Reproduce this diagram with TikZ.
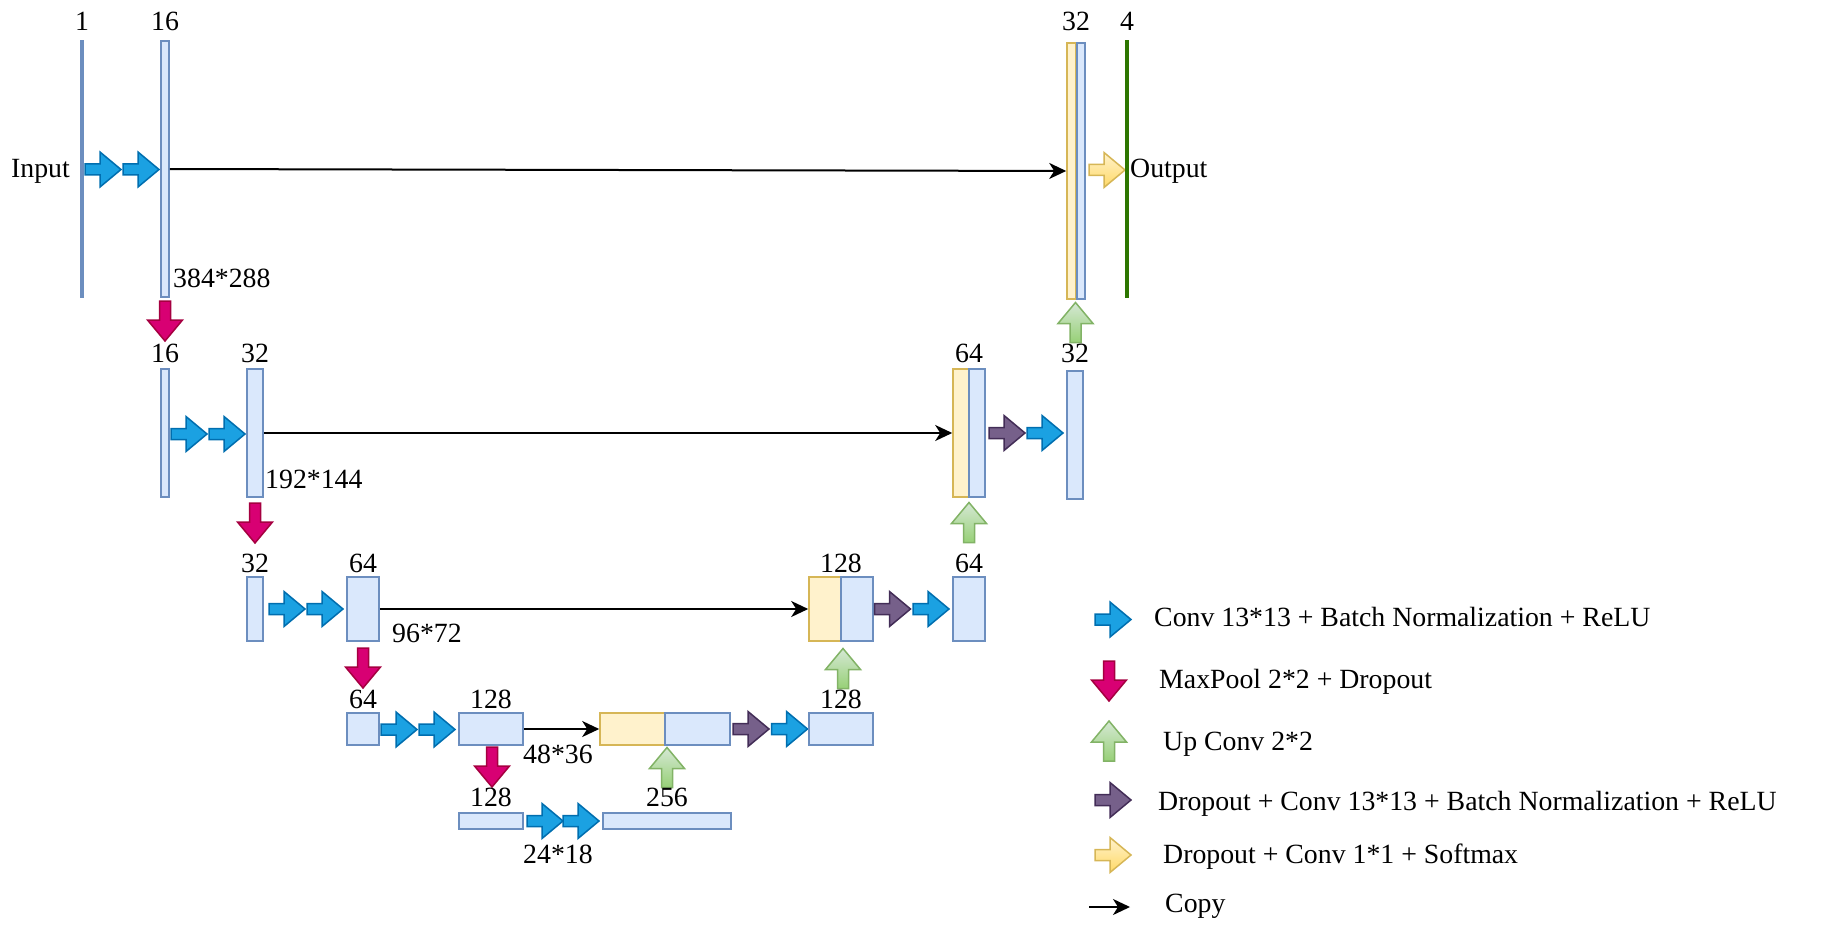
\documentclass[tikz,border=0pt]{standalone}
\usepackage{fontspec}
\setmainfont{Liberation Serif}
\usetikzlibrary{arrows.meta}
\definecolor{mapfill}{HTML}{DAE8FC}
\definecolor{mapdraw}{HTML}{6C8EBF}
\definecolor{catfill}{HTML}{FFF2CC}
\definecolor{catdraw}{HTML}{D6B656}
\definecolor{convfill}{HTML}{1BA1E2}
\definecolor{convdraw}{HTML}{006EAF}
\definecolor{poolfill}{HTML}{D80073}
\definecolor{pooldraw}{HTML}{A50040}
\definecolor{uptop}{HTML}{D5E8D4}
\definecolor{upbot}{HTML}{97D077}
\definecolor{updraw}{HTML}{82B366}
\definecolor{dropfill}{HTML}{76608A}
\definecolor{dropdraw}{HTML}{432D57}
\definecolor{smtop}{HTML}{FFF2CC}
\definecolor{smbot}{HTML}{FFD966}
\definecolor{outcol}{HTML}{2D7600}
\tikzset{
  pics/rarr/.style={code={\path[pic actions] (-18,-5.5) -- (-3,-5.5) -- (-3,-17.5) -- (18,0) -- (-3,17.5) -- (-3,5.5) -- (-18,5.5) -- cycle;}},
  pics/darr/.style={code={\path[pic actions] (-5.5,-20) -- (5.5,-20) -- (5.5,-1) -- (17.5,-1) -- (0,20) -- (-17.5,-1) -- (-5.5,-1) -- cycle;}},
  pics/uarr/.style={code={\path[pic actions] (-5.5,20) -- (5.5,20) -- (5.5,1) -- (17.5,1) -- (0,-20) -- (-17.5,1) -- (-5.5,1) -- cycle;}},
  conv/.style={fill=convfill,draw=convdraw,line width=1.5pt},
  pool/.style={fill=poolfill,draw=pooldraw,line width=1.5pt},
  upconv/.style={top color=uptop,bottom color=upbot,draw=updraw,line width=1.5pt},
  dconv/.style={fill=dropfill,draw=dropdraw,line width=1.5pt},
  smax/.style={top color=smtop,bottom color=smbot,draw=catdraw,line width=1.5pt},
  fmap/.style args={#1x#2}{draw=mapdraw,fill=mapfill,line width=1.6pt,minimum width=#1pt,minimum height=#2pt},
  cmap/.style args={#1x#2}{draw=catdraw,fill=catfill,line width=1.6pt,minimum width=#1pt,minimum height=#2pt},
  slab/.style={fill=#1,minimum width=3.3pt,minimum height=258pt},
  copyline/.style={line width=2pt,-{Stealth[length=17pt,width=16pt,inset=5pt]}}
}
\begin{document}
\begin{tikzpicture}[x=1pt,y=-1pt,every node/.append style={inner sep=0pt,font=\fontsize{27.8}{33}\selectfont}]
\useasboundingbox (0,0) rectangle (1844,928);
% level 0
\node[slab=mapdraw] (inp) at (82,169) {};
\node[anchor=base east] (tin) at (70,178) {Input};
\node[anchor=base] (n1) at (82,31) {1};
\pic[conv] at (103,169.5) {rarr};
\pic[conv] at (141,169.5) {rarr};
\node[fmap=8x256] (e0) at (165,169) {};
\node[anchor=base] (ne0) at (165,31) {16};
\node[anchor=base west] (s0) at (173,287) {384*288};
\node[cmap=9x256] (c0a) at (1071.5,171) {};
\node[fmap=8x256] (c0b) at (1081,171) {};
\node[anchor=base] (nc0) at (1076,31) {32};
\pic[smax] at (1107,170) {rarr};
\node[slab=outcol] (outp) at (1127,169) {};
\node[anchor=base] (n4) at (1127,31) {4};
\node[anchor=base west] (tout) at (1130,178) {Output};
\draw[copyline] (e0) -- (c0a);
\pic[pool] at (165,321) {darr};
\pic[upconv] at (1075.5,322.5) {uarr};
% level 1
\node[fmap=8x128] (e1a) at (165,433) {};
\node[anchor=base] (ne1a) at (165,362) {16};
\pic[conv] at (189,434) {rarr};
\pic[conv] at (227,434) {rarr};
\node[fmap=16x128] (e1b) at (255,433) {};
\node[anchor=base] (ne1b) at (255,362) {32};
\node[anchor=base west] (s1) at (265,488) {192*144};
\node[cmap=16x128] (c1a) at (961,433) {};
\node[fmap=16x128] (c1b) at (977,433) {};
\node[anchor=base] (nc1) at (969,362) {64};
\pic[dconv] at (1007,433) {rarr};
\pic[conv] at (1045,433) {rarr};
\node[fmap=16x128] (d1) at (1075,435) {};
\node[anchor=base] (nd1) at (1075,362) {32};
\draw[copyline] (e1b) -- (c1a);
\pic[pool] at (255,523) {darr};
\pic[upconv] at (969,522.5) {uarr};
% level 2
\node[fmap=16x64] (e2a) at (255,609) {};
\node[anchor=base] (ne2a) at (255,572) {32};
\pic[conv] at (287,609) {rarr};
\pic[conv] at (325,609) {rarr};
\node[fmap=32x64] (e2b) at (363,609) {};
\node[anchor=base] (ne2b) at (363,572) {64};
\node[anchor=base west] (s2) at (392,642) {96*72};
\node[cmap=32x64] (c2a) at (825,609) {};
\node[fmap=32x64] (c2b) at (857,609) {};
\node[anchor=base] (nc2) at (841,572) {128};
\pic[dconv] at (892.5,609) {rarr};
\pic[conv] at (931,609) {rarr};
\node[fmap=32x64] (d2) at (969,609) {};
\node[anchor=base] (nd2) at (969,572) {64};
\draw[copyline] (e2b) -- (c2a);
\pic[pool] at (363,668) {darr};
\pic[upconv] at (843,668.5) {uarr};
% level 3
\node[fmap=32x32] (e3a) at (363,729) {};
\node[anchor=base] (ne3a) at (363,708) {64};
\pic[conv] at (399,729.5) {rarr};
\pic[conv] at (437,729.5) {rarr};
\node[fmap=64x32] (e3b) at (491,729) {};
\node[anchor=base] (ne3b) at (491,708) {128};
\node[anchor=base west] (s3) at (523,763) {48*36};
\node[cmap=65x32] (c3a) at (632.5,729) {};
\node[fmap=65x32] (c3b) at (697.5,729) {};
\pic[dconv] at (751,729) {rarr};
\pic[conv] at (789.5,729) {rarr};
\node[fmap=64x32] (d3) at (841,729) {};
\node[anchor=base] (nd3) at (841,708) {128};
\draw[copyline] (e3b) -- (c3a);
\pic[pool] at (492,767) {darr};
\pic[upconv] at (667,767.5) {uarr};
% level 4
\node[fmap=64x16] (e4a) at (491,821) {};
\node[anchor=base] (ne4a) at (491,806) {128};
\pic[conv] at (545,821) {rarr};
\pic[conv] at (581,821) {rarr};
\node[fmap=128x16] (e4b) at (667,821) {};
\node[anchor=base] (ne4b) at (667,806) {256};
\node[anchor=base west] (s4) at (523,863) {24*18};
% legend
\pic[conv] at (1113,619.5) {rarr};
\node[anchor=base west] (lg1) at (1154,626) {Conv 13*13 + Batch Normalization + ReLU};
\pic[pool] at (1109,681) {darr};
\node[anchor=base west] (lg2) at (1159,688) {MaxPool 2*2 + Dropout};
\pic[upconv] at (1109,741) {uarr};
\node[anchor=base west] (lg3) at (1163,750) {Up Conv 2*2};
\pic[dconv] at (1113,800) {rarr};
\node[anchor=base west] (lg4) at (1158,810) {Dropout + Conv 13*13 + Batch Normalization + ReLU};
\pic[smax] at (1113,855) {rarr};
\node[anchor=base west] (lg5) at (1163,863) {Dropout + Conv 1*1 + Softmax};
\coordinate (lgc0) at (1089,907);
\coordinate (lgc1) at (1130,907);
\draw[copyline] (lgc0) -- (lgc1);
\node[anchor=base west] (lg6) at (1165,912) {Copy};
\end{tikzpicture}
\end{document}
